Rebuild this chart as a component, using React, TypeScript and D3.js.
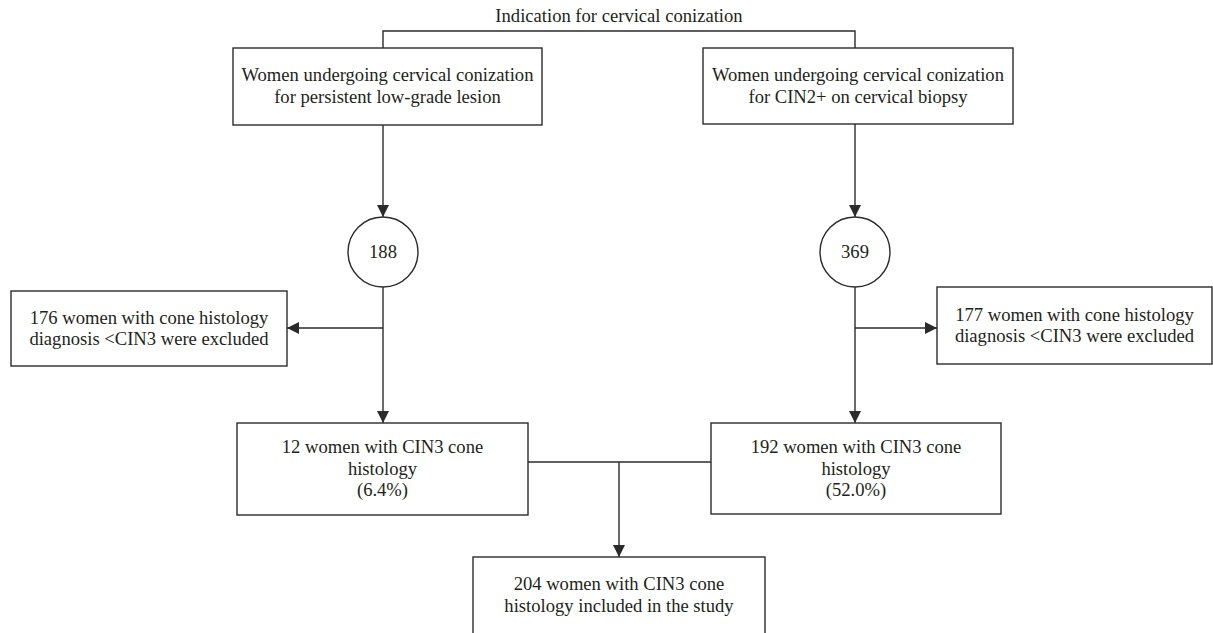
import React, { useEffect, useRef } from "react";
import * as d3 from "d3";

// ---- content ----
const title = "Indication for cervical conization";
const groupLabels = [
  ["Women undergoing cervical conization", "for persistent low-grade lesion"],
  ["Women undergoing cervical conization", "for CIN2+ on cervical biopsy"],
];
const groupCounts = [188, 369];
const excludedCounts = [176, 177];
const includedCounts = [12, 192];
const includedPct = ["6.4%", "52.0%"];
const totalIncluded = 204;

const W = 1213;
const H = 633;
const FONT = "'Liberation Serif', 'Times New Roman', serif";
const STROKE = "#2b2b2b";
const FS = 18.6;

export default function App() {
  const ref = useRef<SVGSVGElement | null>(null);

  useEffect(() => {
    const svg = d3.select(ref.current);
    svg.selectAll("*").remove();

    const defs = svg.append("defs");
    defs
      .append("marker")
      .attr("id", "arr")
      .attr("viewBox", "0 0 10 10")
      .attr("refX", 10)
      .attr("refY", 5)
      .attr("markerUnits", "userSpaceOnUse")
      .attr("markerWidth", 12)
      .attr("markerHeight", 12)
      .attr("orient", "auto")
      .append("path")
      .attr("d", "M0,0 L10,5 L0,10 Z")
      .attr("fill", STROKE);

    const line = d3.line<[number, number]>();
    const g = svg.append("g");

    const path = (pts: [number, number][], arrow = false) => {
      const p = g
        .append("path")
        .attr("d", line(pts))
        .attr("fill", "none")
        .attr("stroke", STROKE)
        .attr("stroke-width", 1.4);
      if (arrow) p.attr("marker-end", "url(#arr)");
    };

    const box = (x0: number, y0: number, x1: number, y1: number) => {
      g.append("rect")
        .attr("x", x0)
        .attr("y", y0)
        .attr("width", x1 - x0)
        .attr("height", y1 - y0)
        .attr("fill", "white")
        .attr("stroke", STROKE)
        .attr("stroke-width", 1.4);
    };

    const text = (cx: number, cy: number, lines: string[], gap = 22, size = FS) => {
      const y0 = cy - ((lines.length - 1) * gap) / 2;
      lines.forEach((l, i) => {
        g.append("text")
          .attr("x", cx)
          .attr("y", y0 + i * gap)
          .attr("text-anchor", "middle")
          .attr("dominant-baseline", "central")
          .attr("font-family", FONT)
          .attr("font-size", size)
          .attr("fill", "#231f20")
          .text(l);
      });
    };

    // layout
    const colX = [383, 855];
    const topY = 31;
    const box1 = [
      [233, 48, 542, 125],
      [703, 48, 1013, 124],
    ];
    const circY = 252;
    const r = 35;
    const exBox = [
      [11, 291, 287, 366],
      [937, 287, 1212, 364],
    ];
    const exY = 328;
    const box2 = [
      [237, 423, 528, 515],
      [711, 423, 1001, 514],
    ];
    const mergeY = 462;
    const mergeX = 619;
    const box3 = [473, 557, 765, 660];

    // title
    text((colX[0] + colX[1]) / 2, 15, [title]);
    path([
      [colX[0], box1[0][1]],
      [colX[0], topY],
      [colX[1], topY],
      [colX[1], box1[1][1]],
    ]);

    [0, 1].forEach((i) => {
      const b = box1[i];
      box(b[0], b[1], b[2], b[3]);
      text((b[0] + b[2]) / 2, (b[1] + b[3]) / 2 - 1, groupLabels[i]);
      path(
        [
          [colX[i], b[3]],
          [colX[i], circY - r],
        ],
        true
      );
      g.append("circle")
        .attr("cx", colX[i])
        .attr("cy", circY)
        .attr("r", r)
        .attr("fill", "white")
        .attr("stroke", STROKE)
        .attr("stroke-width", 1.4);
      text(colX[i], circY - 1, [String(groupCounts[i])]);

      const e = exBox[i];
      box(e[0], e[1], e[2], e[3]);
      text((e[0] + e[2]) / 2, (e[1] + e[3]) / 2 - 1, [
        `${excludedCounts[i]} women with cone histology`,
        "diagnosis <CIN3 were excluded",
      ], 21);
      path(
        [
          [colX[i], exY],
          [i === 0 ? e[2] : e[0], exY],
        ],
        true
      );
      path(
        [
          [colX[i], circY + r],
          [colX[i], box2[i][1]],
        ],
        true
      );
      const b2 = box2[i];
      box(b2[0], b2[1], b2[2], b2[3]);
      text((b2[0] + b2[2]) / 2, 468, [
        `${includedCounts[i]} women with CIN3 cone`,
        "histology",
        `(${includedPct[i]})`,
      ], 21.5);
    });

    path([
      [box2[0][2], mergeY],
      [box2[1][0], mergeY],
    ]);
    path(
      [
        [mergeX, mergeY],
        [mergeX, box3[1]],
      ],
      true
    );
    box(box3[0], box3[1], box3[2], box3[3]);
    text((box3[0] + box3[2]) / 2, 594, [
      `${totalIncluded} women with CIN3 cone`,
      "histology included in the study",
    ]);
  }, []);

  return (
    <svg
      ref={ref}
      width={W}
      height={H}
      viewBox={`0 0 ${W} ${H}`}
      style={{ position: "absolute", left: 0, top: 0, background: "white" }}
    />
  );
}
